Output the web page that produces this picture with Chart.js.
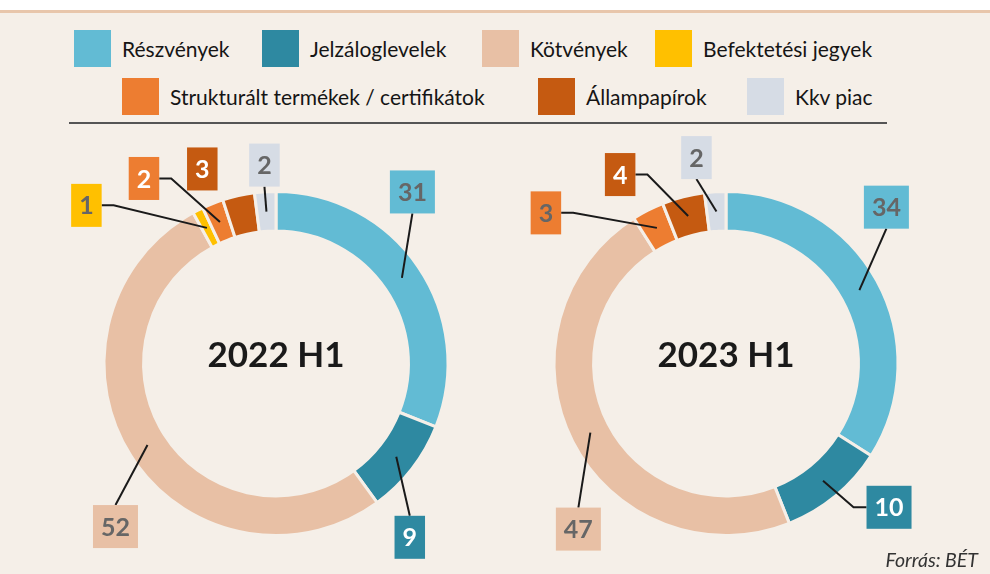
<!DOCTYPE html>
<html>
<head>
<meta charset="utf-8">
<script src="https://cdn.jsdelivr.net/npm/chart.js@4.4.1/dist/chart.umd.min.js"></script>
<style>
  html, body { margin: 0; padding: 0; background: #fff; }
  #wrap { position: relative; width: 990px; height: 574px; overflow: hidden; background: #fff; font-family: Lato, "Open Sans", sans-serif; }
  #panel { position: absolute; left: 0; top: 10px; width: 990px; height: 564px; background: #f5efe8; border-top: 3px solid #e8c6ab; box-sizing: border-box; }
  .leg { position: absolute; display: flex; align-items: center; font-size: 21px; color: #151515; white-space: nowrap; }
  .leg i { display: inline-block; width: 37px; height: 37px; margin-right: 11px; }
  #rule { position: absolute; left: 69px; top: 122px; width: 818px; height: 2px; background: #555; }
  canvas { position: absolute; top: 0; }
  #src { position: absolute; right: 12px; top: 548px; font-style: italic; font-size: 19.5px; color: #333; }
</style>
</head>
<body>
<div id="wrap">
  <div id="panel"></div>
  <div id="legend"></div>
  <div id="rule"></div>
  <canvas id="c2022" width="495" height="574" style="left:0"></canvas>
  <canvas id="c2023" width="495" height="574" style="left:495px"></canvas>
  <div id="src">Forrás: BÉT</div>
</div>
<script>
const categories = ['Részvények', 'Jelzáloglevelek', 'Kötvények', 'Befektetési jegyek',
  'Strukturált termékek / certifikátok', 'Állampapírok', 'Kkv piac'];
const values2022 = [31, 9, 52, 1, 2, 3, 2];
const values2023 = [34, 10, 47, 0, 3, 4, 2];
const periods = ['2022 H1', '2023 H1'];

const colors = ['#62bbd4', '#2e89a1', '#e8c0a5', '#ffc000', '#ed7d31', '#c55a11', '#d6dce5'];
const bg = '#f5efe8';

// legend layout (left edge of swatch, row)
const legX = [74, 262, 482, 655, 122, 538, 747];
const legRow = [0, 0, 0, 0, 1, 1, 1];
const legend = document.getElementById('legend');
categories.forEach((name, i) => {
  const d = document.createElement('div');
  d.className = 'leg';
  d.style.left = legX[i] + 'px';
  d.style.top = (legRow[i] ? 78 : 30) + 'px';
  d.innerHTML = '<i style="background:' + colors[i] + '"></i><span>' + name + '</span>';
  legend.appendChild(d);
});

// callout box offsets from the segment centre, and which box side the leader line leaves from
const spots2022 = [
  {dx: 10.5, dy: -86, side: 'bottom'},
  {dx: 13.5, dy: 80.5, side: 'top'},
  {dx: -32, dy: 81.5, side: 'top'},
  {dx: -120.5, dy: -22.5, side: 'right'},
  {dx: -76, dy: -43.5, side: 'right'},
  {dx: -40.5, dy: -46, side: null},
  {dx: -2, dy: -46.5, side: 'bottom'}
];
const spots2023 = [
  {dx: 27, dy: -83, side: 'bottom'},
  {dx: 66, dy: 26.5, side: 'left'},
  {dx: -12, dy: 96.5, side: 'top'},
  null,
  {dx: -111, dy: -15, side: 'right'},
  {dx: -68, dy: -41.5, side: 'right'},
  {dx: -20, dy: -54, side: 'bottom'}
];
const ink2022 = ['#666', '#fff', '#666', '#666', '#fff', '#fff', '#666'];
const ink2023 = ['#666', '#fff', '#666', '#666', '#666', '#fff', '#666'];

const calloutPlugin = {
  id: 'callout',
  afterDraw(chart, args, opts) {
    const ctx = chart.ctx;
    const meta = chart.getDatasetMeta(0);
    const ds = chart.data.datasets[0];
    ctx.save();
    ctx.font = 'bold 25px Lato';
    ctx.textAlign = 'center';
    ctx.textBaseline = 'middle';
    meta.data.forEach((arc, i) => {
      const v = ds.data[i];
      const s = opts.spots[i];
      if (!v || !s) return;
      const p = arc.tooltipPosition();
      const txt = String(v);
      const w = ctx.measureText(txt).width + 16, h = 43;
      const bx = p.x + s.dx, by = p.y + s.dy;
      if (s.side) {
        ctx.strokeStyle = '#1a1a1a';
        ctx.lineWidth = 2;
        ctx.beginPath();
        if (s.side === 'bottom') ctx.moveTo(bx, by + h / 2);
        else if (s.side === 'top') ctx.moveTo(bx, by - h / 2);
        else if (s.side === 'right') { ctx.moveTo(bx + w / 2, by); ctx.lineTo(bx + w / 2 + 12, by); }
        else { ctx.moveTo(bx - w / 2, by); ctx.lineTo(bx - w / 2 - 13, by); }
        ctx.lineTo(p.x, p.y);
        ctx.stroke();
      }
      ctx.fillStyle = ds.backgroundColor[i];
      ctx.fillRect(bx - w / 2, by - h / 2, w, h);
      ctx.fillStyle = opts.ink[i];
      ctx.fillText(txt, bx, by + 1);
    });
    const c = meta.data[0];
    ctx.font = 'bold 35px Lato';
    ctx.fillStyle = '#1a1a1a';
    ctx.fillText(opts.title, c.x, c.y - 8);
    ctx.restore();
  }
};

function makeChart(id, values, title, spots, ink, pad) {
  return new Chart(document.getElementById(id), {
    type: 'doughnut',
    data: {
      labels: categories,
      datasets: [{
        data: values,
        backgroundColor: colors,
        borderColor: bg,
        borderWidth: 3,
        hoverBorderWidth: 3
      }]
    },
    options: {
      responsive: false,
      animation: false,
      events: [],
      cutout: '77%',
      layout: {padding: pad},
      plugins: {
        legend: {display: false},
        tooltip: {enabled: false},
        callout: {spots: spots, ink: ink, title: title}
      }
    },
    plugins: [calloutPlugin]
  });
}

makeChart('c2022', values2022, periods[0], spots2022, ink2022,
  {left: 102.5, right: 45.5, top: 190, bottom: 37});
makeChart('c2023', values2023, periods[1], spots2023, ink2023,
  {left: 57.5, right: 90.5, top: 190, bottom: 37});
</script>
</body>
</html>
